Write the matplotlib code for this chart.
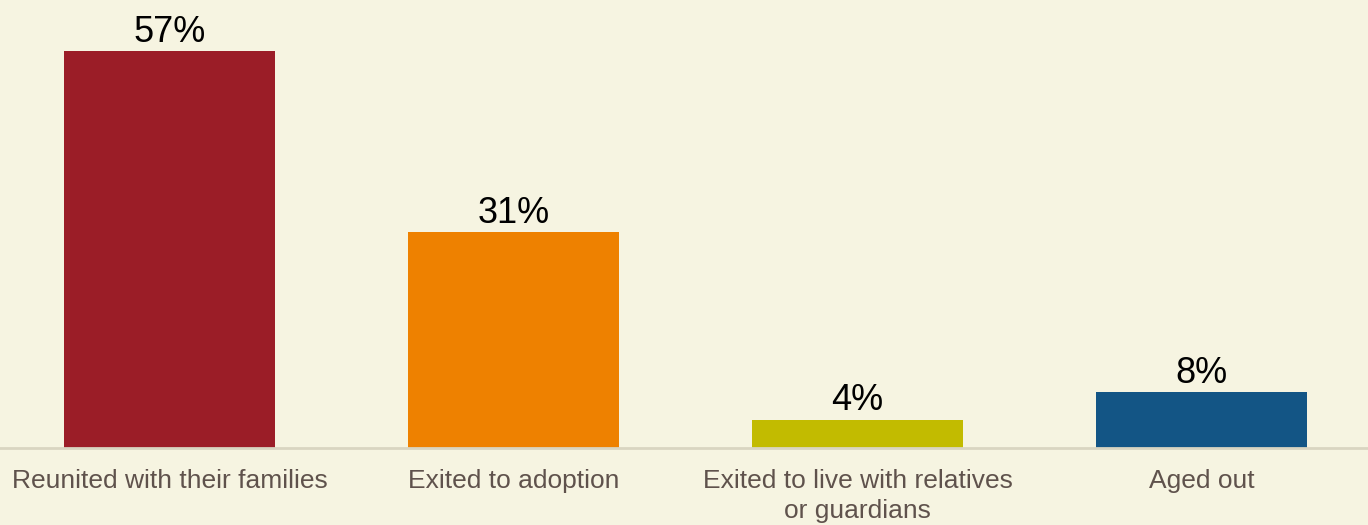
import matplotlib.pyplot as plt

plt.rcParams['font.family'] = ['Liberation Sans', 'DejaVu Sans']

# data
categories = ['Reunited with their families', 'Exited to adoption',
              'Exited to live with relatives\nor guardians', 'Aged out']
values = [57, 31, 4, 8]
labels = ['57%', '31%', '4%', '8%']
colors = ['#9b1d27', '#ee8100', '#c2bb00', '#135585']

bg = '#f6f4e1'

fig = plt.figure(figsize=(13.68, 5.25), dpi=100, facecolor=bg)
ax = fig.add_axes([-2.5 / 1368, 77 / 525, 1376 / 1368, 448 / 525])
ax.set_facecolor(bg)

x = range(len(values))
bars = ax.bar(x, values, width=0.613, color=colors)

for b, lab in zip(bars, labels):
    ax.annotate(lab, (b.get_x() + b.get_width() / 2, b.get_height()),
                xytext=(0, 7), textcoords='offset points',
                ha='center', va='baseline', fontsize=26, color='black')

ax.set_xlim(-0.5, 3.5)
ax.set_ylim(0, 64.4)
ax.set_xticks(list(x))
ax.set_xticklabels(categories, fontsize=19, color='#5f524c', linespacing=1.35)
ax.tick_params(axis='x', length=0, pad=15)
ax.set_yticks([])

for s in ['top', 'left', 'right']:
    ax.spines[s].set_visible(False)
ax.spines['bottom'].set_color('#d9d5c1')
ax.spines['bottom'].set_linewidth(2)

fig.savefig('out.png', dpi=100, facecolor=bg)
